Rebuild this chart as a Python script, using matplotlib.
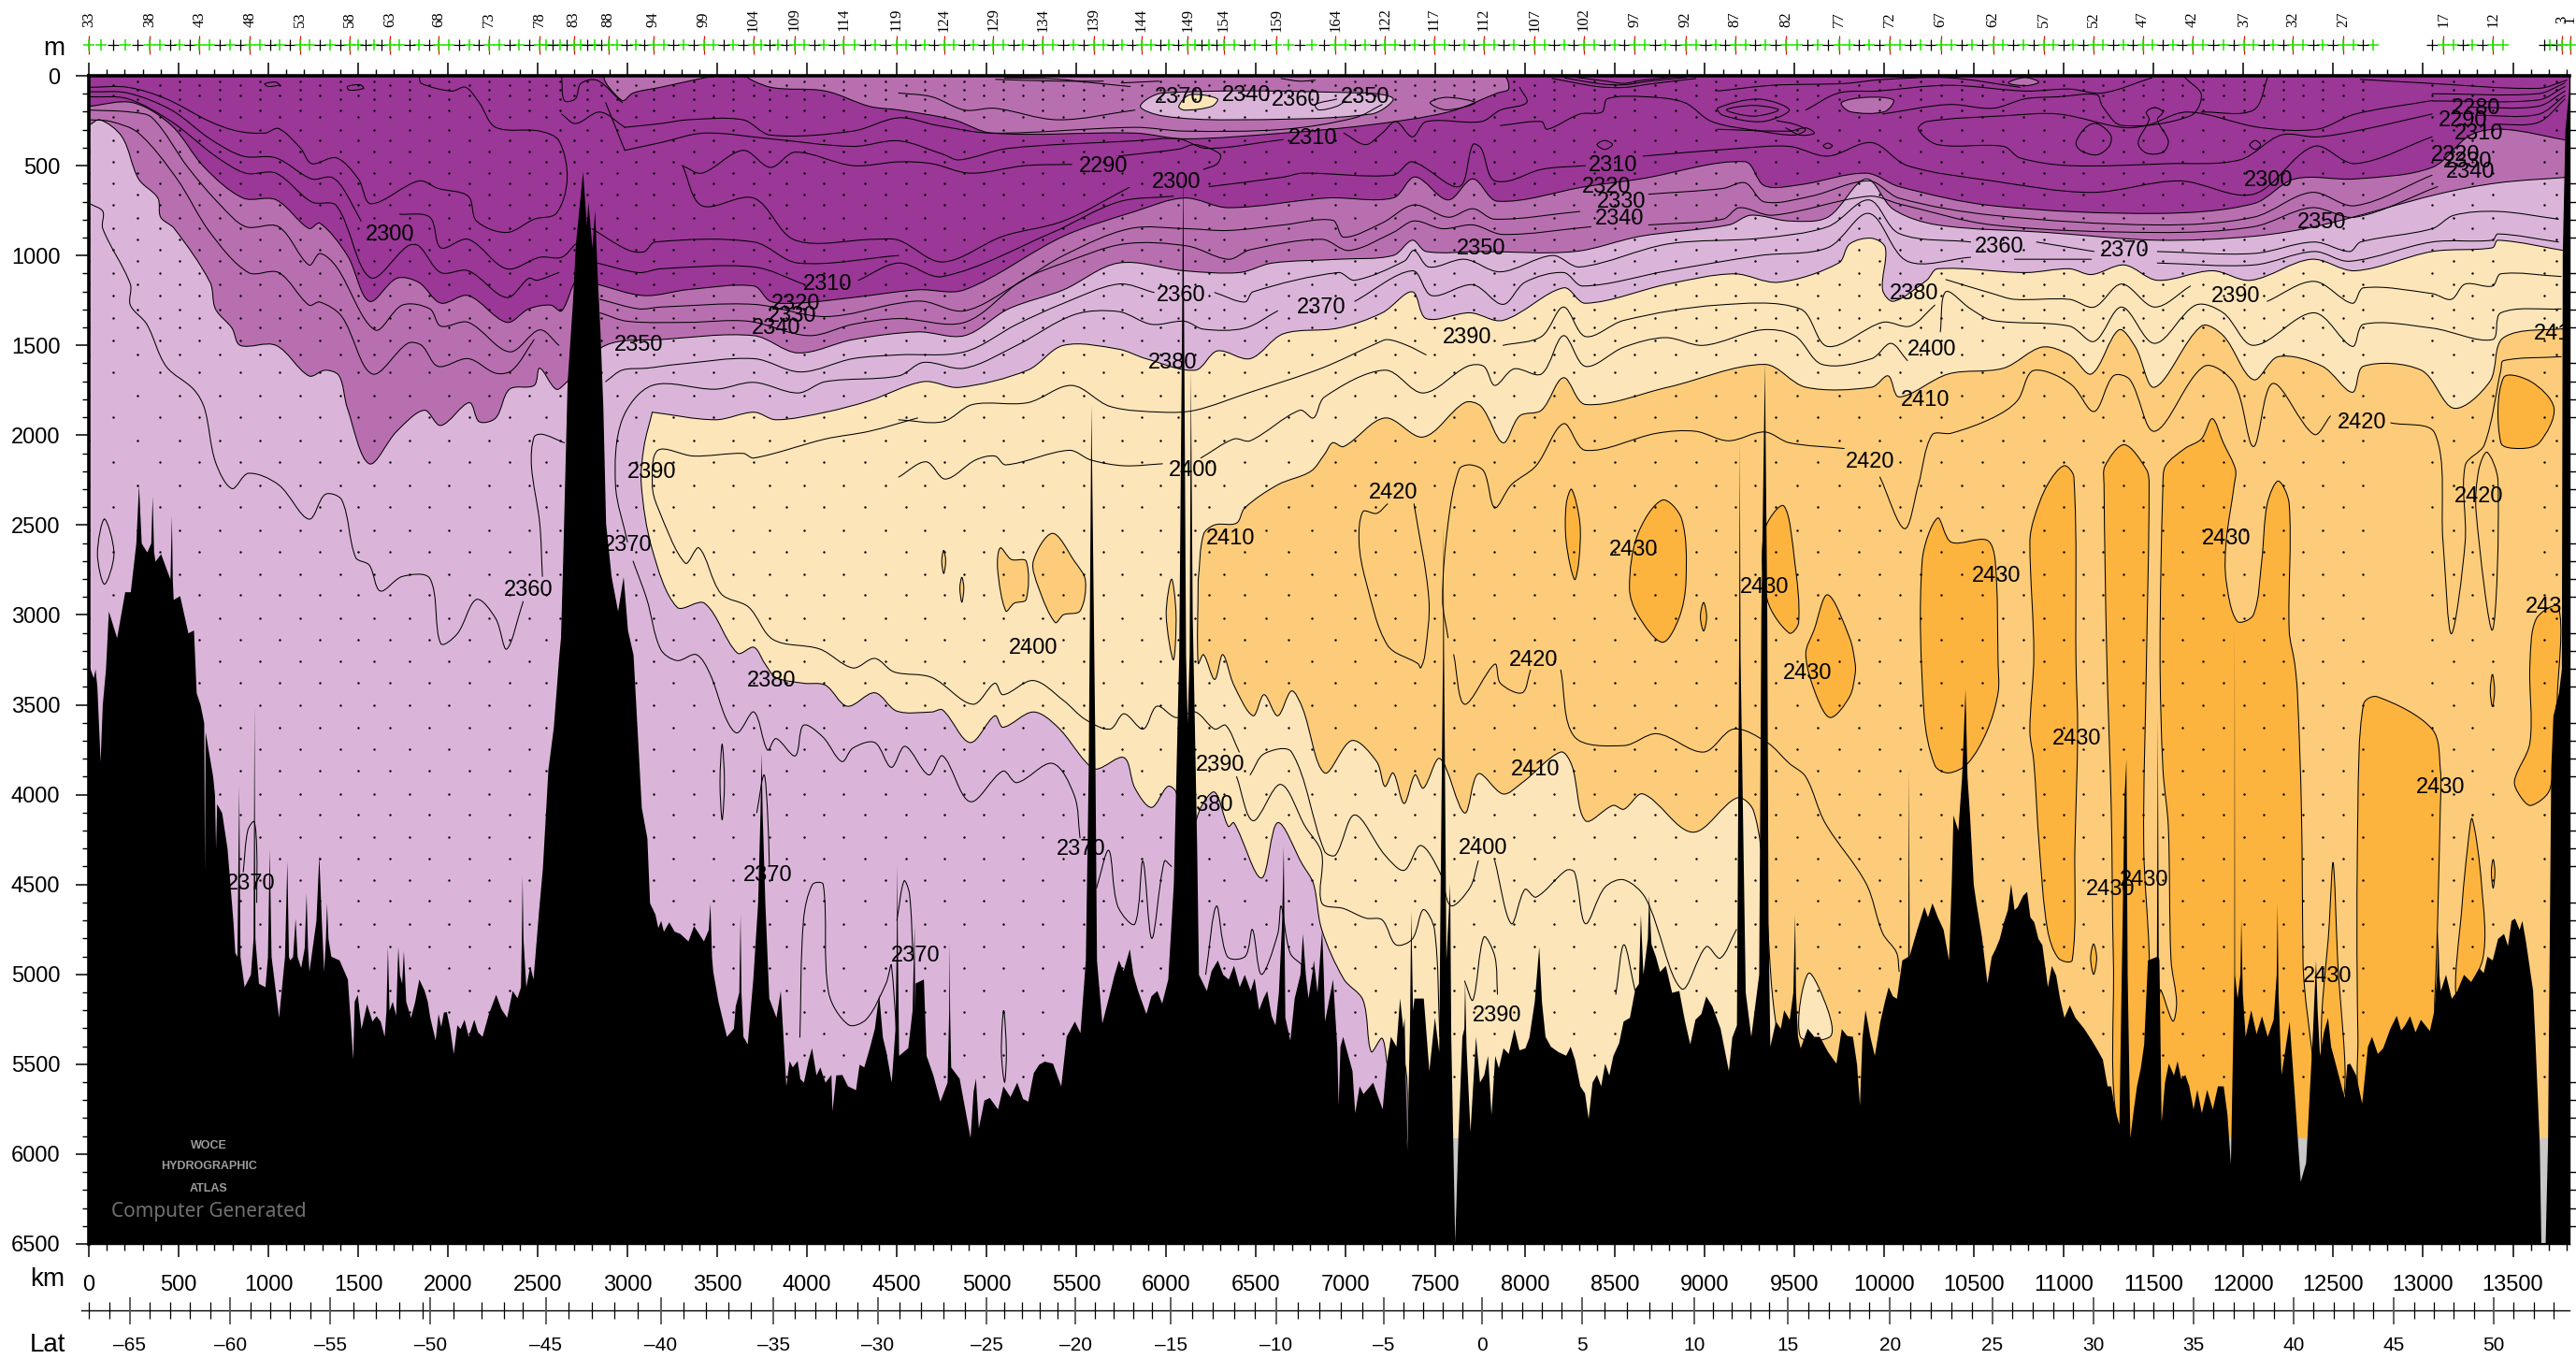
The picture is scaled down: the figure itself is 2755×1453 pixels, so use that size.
import numpy as np
import matplotlib
matplotlib.use("Agg")
import matplotlib.pyplot as plt
from matplotlib.path import Path
from matplotlib.patches import PathPatch

plt.rcParams['font.family'] = ['Liberation Sans', 'DejaVu Sans']

# colours of the bands
c_dark = '#9b3797'
c_med = '#b86fb0'
c_lilac = '#dab5d9'
c_cream = '#fde5ba'
c_lorange = '#fdcc7a'
c_orange = '#fdb43f'
c_grey = '#c8c8c8'

################################################################################
# band boundaries (km, depth m)
b2320 = [(0,170),(246,150),(460,276),(644,510),(858,680),(1042,690),(1226,850),(1287,820),(1440,1000),(1562,1255),
         (1715,1127),(1838,1150),(1960,1265),(2113,1223),(2327,1372),(2450,1297),(2572,1276),(2633,1308),(2725,1127),
         (2832,1160),(3092,1223),(3337,1190),(3704,1170),(3796,1255),(3950,1265),(4255,1234),(4616,1191),(4877,1191),
         (5428,893),(5826,755),(6101,680),(6346,734),(6897,680),(7264,680),(7386,563),(7570,691),(7708,574),(7845,698),
         (8335,617),(8641,574),(9222,478),(9332,612),(9531,606),(9898,542),(10082,617),(10602,723),(11520,766),
         (12055,712),(12285,574),(12622,574),(13050,510),(13264,330),(13448,298),(13815,362)]
b2350 = [(0,276),(63,245),(185,340),(277,574),(384,680),(400,787),(476,850),(675,1149),(705,1297),(797,1404),(843,1500),
         (1042,1500),(1226,1670),(1317,1638),(1394,1670),(1440,1850),(1562,2159),(1715,1978),(1868,1861),(1960,1946),
         (2119,1819),(2174,1925),(2266,1904),(2343,1744),(2480,1723),(2511,1627),(2603,1744),(2664,1702),(2878,1500),
         (3184,1468),(3704,1446),(3949,1542),(4255,1468),(4616,1425),(4877,1446),(5122,1297),(5428,1191),(5734,1042),
         (6101,1085),(6407,1095),(6591,1042),(6958,1021),(7264,1000),(7371,915),(7448,978),(7754,978),(8274,978),
         (8641,893),(9133,830),(9256,776),(9470,808),(9684,787),(9898,574),(10051,744),(10296,830),(10908,872),
         (11520,915),(12055,893),(12438,830),(13081,659),(13417,596),(13815,564)]
b2380_top = [(3138,1872),(3490,1914),(3704,1872),(3827,1914),(4102,1872),(4347,1808),(4648,1702),(4847,1734),(5229,1638),
             (5428,1500),(5734,1521),(5887,1574),(6162,1638),(6285,1531),(6468,1574),(6652,1436),(6958,1404),(7203,1319),
             (7371,1202),(7448,1351),(7692,1319),(7876,1361),(8213,1180),(8335,1266),(8794,1159),(9161,1102),(9409,1149),
             (9745,1042),(9806,936),(9929,904),(10005,957),(9990,1191),(10051,1255),(10235,1138),(10296,1074),(10786,1095),
             (11030,1074),(11153,1106),(11336,1053),(11520,1138),(11826,1085),(12040,1138),(12377,1021),(12622,1085),
             (13050,978),(13386,957),(13417,915),(13815,978)]
b2380_low = [(3138,1872),(3092,2063),(3077,2276),(3138,2637),(3276,2957),(3429,2935),(3612,3212),(3704,3180),(3765,3271),
             (3827,3348),(3980,3380),(4102,3391),(4224,3508),(4377,3433),(4500,3535),(4694,3540),(4755,3529),(4908,3710),
             (5046,3561),(5091,3625),(5260,3540),(5397,3625),(5550,3816),(5612,3858),(5765,3794),(5826,3964),(5918,4071),
             (6009,3954),(6055,3986),(6117,4283),(6193,4071),(6270,3986),(6346,4177),(6377,4156),(6530,4464),(6621,4156),
             (6759,4389),(6820,4495),(6866,4750),(6989,5026),(7096,5143),(7142,5430),(7203,5356),(7249,5558),(7330,5504),
             (7340,5982)]
b2410_top = [(6178,2808),(6208,2552),(6270,2499),(6392,2489),(6438,2404),(6621,2276),(6805,2201),(6882,2106),(6927,2042),
             (6989,2063),(7218,1904),(7432,2010),(7662,1819),(7754,1840),(7876,2042),(7968,1893),(8090,1861),(8213,1680),
             (8335,1829),(8794,1733),(9332,1606),(9562,1733),(9929,1733),(10021,1670),(10082,1787),(10357,1659),(10663,1627),
             (10877,1510),(11030,1553),(11153,1659),(11306,1414),(11398,1510),(11505,1733),(11765,1393),(11887,1446),
             (12055,1691),(12193,1563),(12438,1616),(12606,1761),(12668,1616),(12989,1638),(13172,1850),(13371,1702),
             (13448,1457),(13815,1404)]
b2410_low = [(6178,2808),(6178,3270),(6208,3221),(6270,3359),(6315,3221),(6377,3391),(6484,3561),(6545,3444),(6621,3561),
             (6698,3423),(6759,3518),(6882,3879),(7034,3699),(7172,3816),(7218,3954),(7264,3879),(7325,4049),(7386,3890),
             (7432,3964),(7524,3799),(7662,4102),(7738,3884),(7876,3996),(7983,3933),(8197,3763),(8259,3837),(8335,4145),
             (8488,4060),(8549,4081),(8656,3996),(8932,4209),(9179,4018),(9271,4090),(9332,4495),(9378,5133),(9439,5557)]
patch_cream2 = [(9577,4994),(9684,5196),(9699,5345),(9531,5345)]
patch_med_a = [(3673,0),(3796,64),(4102,85),(4347,170),(4515,191),(4816,245),(5030,319),(5826,319),(6101,351),(6652,319),
               (7111,276),(7570,202),(7845,96),(7907,74),(7876,0)]
patch_med_b = [(2878,0),(2970,138),(3031,96),(3184,64),(3429,11),(3490,0)]
patch_lilac_a = [(5856,170),(5979,96),(7111,96),(7264,128),(7142,213),(6346,245),(5979,223)]
patch_cream_a = [(6070,170),(6132,106),(6285,128),(6254,170),(6101,191)]
patch_med_c = [(9760,150),(9900,120),(10050,135),(10000,200),(9810,200)]
patch_med_d = [(10690,40),(10780,10),(10860,35),(10790,55)]

# light orange islands in the cream
lo_a = [(5076,2627),(5137,2691),(5220,2701),(5220,2914),(5153,2935),(5107,2978),(5061,2744)]
lo_b = [(5367,2546),(5489,2701),(5550,2808),(5520,2978),(5428,2999),(5382,3042),(5290,2850),(5260,2701)]
lo_c = [(4761,2640),(4772,2700),(4761,2770),(4750,2700)]
lo_d = [(4862,2790),(4873,2850),(4862,2930),(4851,2850)]
lo_e = [(6030,2800),(6055,3000),(6040,3250),(6000,3000)]

# orange (>2430) patches
or_1 = [(8258,2301),(8304,2489),(8298,2701),(8274,2803),(8228,2595),(8228,2382)]
or_2 = [(8763,2361),(8871,2467),(8895,2808),(8855,3020),(8763,3152),(8626,2999),(8580,2850),(8626,2552)]
or_3 = [(8993,2930),(9010,3010),(8993,3090),(8975,3010)]
or_4 = [(10296,2461),(10372,2595),(10571,2584),(10617,2701),(10633,3271),(10633,3433),(10571,3646),(10464,3826),
        (10357,3879),(10281,3837),(10220,3540),(10210,2701)]
or_5 = [(9439,2393),(9500,2701),(9522,3042),(9470,3101),(9347,2914),(9332,2531)]
or_6 = [(9684,2888),(9806,3127),(9837,3271),(9837,3327),(9806,3455),(9699,3571),(9623,3455),(9562,3221),(9608,3084)]
or_7 = [(11000,2170),(11055,2233),(11067,3271),(11076,3646),(11061,4283),(11046,4920),(10969,4910),(10908,4750),
        (10862,4283),(10832,3816),(10810,3646),(10832,3221),(10810,2595),(10832,2467),(10908,2276)]
or_8 = [(11336,2053),(11459,2191),(11474,2276),(11459,3271),(11444,4283),(11474,4878),(11489,5876),(11306,5876),
        (11275,4920),(11263,4071),(11238,3221),(11223,2276),(11229,2170)]
or_9 = [(11551,2276),(11566,2170),(11673,2074),(11765,2021),(11826,1908),(11887,2042),(11955,2191),(11948,2276),
        (11903,2595),(11903,2808),(11964,3035),(12055,2999),(12101,2701),(12132,2382),(12193,2255),(12254,2382),
        (12254,3084),(12285,3271),(12300,3433),(12322,4071),(12331,4920),(12346,6067),(11535,5812),(11535,5090),
        (11606,5260),(11627,5154),(11596,4920),(11581,4177),(11551,3858),(11535,3221)]
or_10 = [(12744,3455),(13050,3635),(13096,3858),(13096,4071),(13065,5133),(13035,5345),(12668,5727),(12637,5345),
         (12637,4071),(12668,3497)]
or_11 = [(13273,4134),(13325,4495),(13331,4920),(13188,5133),(13218,4602),(13249,4283)]
or_12 = [(12499,4379),(12524,4920),(12560,5664),(12438,5472),(12478,4708)]
or_13 = [(13448,1680),(13601,1702),(13729,1850),(13647,2042),(13540,2074),(13433,2042)]
or_14 = [(13754,2956),(13748,3433),(13708,3964),(13601,4060),(13540,4007),(13509,3922),(13595,3710),(13595,3271),(13631,3020)]
or_15 = [(11165,4830),(11182,4910),(11165,5000),(11148,4910)]
or_16 = [(13386,3330),(13398,3423),(13386,3510),(13374,3423)]
or_17 = [(13390,4360),(13400,4430),(13390,4520),(13380,4430)]

################################################################################
# plain contours
c_a1 = [(8,64),(216,64),(430,128),(675,255),(828,308),(981,319),(1057,294),(1180,404),(1241,489),(1379,457),(1501,574),
        (1571,712),(1838,585),(1945,627),(2113,670),(2159,808),(2327,872),(2480,798),(2603,766),(2664,574),(2618,362),
        (2511,308),(2266,287),(2174,149),(2098,64),(2021,85),(1853,43),(1838,0)]
c_a2 = [(8,89),(216,96),(460,191),(675,351),(858,447),(1042,457),(1241,574),(1348,564),(1409,617),(1516,808)]
c_a2b = [(1731,770),(1899,787),(1960,957),(2113,910),(2327,1074),(2511,1010),(2633,1010),(2710,936)]
c_a3 = [(8,117),(216,128),(460,255),(705,447),(874,542),(1042,542),(1241,702),(1379,723),(1568,1123),(1776,947),(1838,947),
        (1960,1095),(2113,1085),(2327,1234),(2450,1127),(2496,1138),(2618,1095)]
c_2330l = [(8,191),(231,202),(353,234),(552,510),(736,723),(874,840),(1057,840),(1226,1053),(1287,989),(1379,1063),(1593,1414),
           (1746,1276),(1899,1297),(1960,1393),(2113,1372),(2343,1536),(2511,1414),(2618,1500)]
c_2340l = [(8,245),(124,255),(277,319),(491,574),(675,872),(889,1095),(1057,1095),(1226,1276),(1287,1259),(1409,1340),
           (1578,1659),(1776,1489),(1853,1500),(1945,1617),(2113,1574),(2266,1655),(2358,1638),(2480,1468)]
c_r1 = [(2802,851),(3000,968),(3092,979),(3153,925),(3704,925),(3949,1042),(4510,1000)]
c_r2 = [(2832,1042),(3062,1095),(3184,1074),(3704,1064),(3980,1159)]
c_r2b = [(4286,1138),(4510,1042),(4755,1117),(5367,872),(5734,702),(6040,670)]
c_2330 = [(2847,1244),(3062,1297),(3184,1287),(3704,1272),(4102,1340),(4510,1266),(4648,1255),(4877,1308),(5168,1159),
          (5428,1000),(5795,851),(6117,851),(6346,861),(6652,830),(6927,804),(6989,898),(7203,819),(7380,719),(7570,787),
          (7708,740),(7830,798),(8304,755)]
c_2330b = [(8687,659),(9100,627),(9225,596),(9332,702),(9592,670),(9914,585),(10082,681),(10602,776),(11520,830),(12055,787),
           (12377,649),(12622,723),(13050,553)]
c_2340 = [(2847,1319),(3000,1366),(3337,1372),(3674,1366),(4010,1446),(4255,1383),(4510,1351),(4877,1372),(5198,1138),
          (5428,1042),(5765,936),(6117,947),(6346,1021),(6468,968),(6866,910),(7019,972),(7264,872),(7380,808),(7539,851),
          (7708,830),(7876,883),(8366,840)]
c_2340b = [(8687,830),(9100,798),(9192,734),(9378,776),(9914,670),(10082,713),(10602,830),(11520,872),(12055,840),(12377,734),
           (12622,787),(13081,617)]
c_2360a = [(2878,1702),(2970,1638),(3108,1627),(3276,1606),(3704,1574),(3964,1648),(4255,1574),(4510,1553),(4877,1536),
           (5168,1383),(5428,1266),(5734,1159),(5933,1206)]
c_2360b = [(6270,1206),(6438,1259),(6484,1202),(6958,1095),(7050,1138),(7325,1032),(7380,972),(7463,1064),(7662,1021),
           (7861,1091),(8151,1000),(8304,1064),(8794,936),(9308,904),(9684,840),(9914,691),(10082,878),(10480,925)]
c_2360c = [(10847,925),(11168,978)]
c_2360d = [(11520,978),(12055,989),(12392,925),(12591,978),(12652,925),(13050,851),(13172,776),(13417,755),(13754,798)]
c_2370a = [(3000,2595),(2933,2276),(2970,1914),(3138,1723),(3490,1744),(3704,1706),(3949,1765),(4102,1702),(4510,1670),
           (4648,1595),(4877,1627),(5168,1500),(5489,1329),(5734,1312),(5918,1383),(6101,1366),(6208,1410),(6438,1404),(6621,1308)]
c_2370b = [(7050,1255),(7371,1085),(7478,1223),(7708,1163),(7876,1272),(7998,1149),(8213,1095),(8320,1170),(8794,1085),
           (9308,1000),(9684,957),(9914,766),(10128,1032),(10480,1010)]
c_2370c = [(10724,1021),(11153,1021)]
c_2370d = [(11520,1042),(12055,1053),(12392,978),(12591,1032),(13050,925),(13386,915),(13417,880),(13754,925)]
c_2370e = [(3031,2701),(3108,2914),(3184,3190),(3276,3254),(3383,3221),(3459,3327),(3551,3582),(3612,3656),(3704,3540),
           (3780,3752),(3827,3688),(3934,3784),(3980,3614),(4087,3678),(4194,3816),(4255,3741),(4377,3710),(4469,3848),
           (4546,3731),(4678,3890),(4755,3784),(4908,4039),(5091,3869),(5168,3933),(5367,3826),(5489,4007),(5520,4241)]
c_2360l = [(8,713),(78,755),(78,851),(231,1159),(231,1276),(323,1383),(430,1616),(583,1744),(644,1850),(705,2148),(797,2297),
           (889,2212),(1057,2276),(1226,2467),(1317,2329),(1409,2361),(1486,2680),(1562,2723),(1623,2867),(1746,2786),
           (1899,2797),(1960,3159),(2052,3105),(2159,2914),(2266,3020),(2327,3190),(2419,2925)]
c_2360m = [(2526,2786),(2511,2489),(2465,2170),(2480,2010),(2526,1995),(2648,2042)]
c_2360o = [(87,2467),(140,2659),(87,2829),(48,2659),(87,2467)]
c_2390a = [(4616,1904),(4347,1978),(4102,2021),(3704,2127),(3643,2101),(3368,2116),(3169,2084),(3138,2276),(3169,2403),
           (3322,2712),(3398,2627),(3521,2882),(3674,2956),(3811,3137),(4071,3190),(4255,3295),(4377,3242),(4484,3317),
           (4694,3348),(4923,3497),(5046,3380),(5091,3444),(5260,3365),(5428,3476),(5550,3582),(5688,3635),(5765,3550),
           (5872,3635),(5948,3508),(6055,3571),(6162,3540),(6270,3635),(6331,3614),(6407,3763)]
c_2390b = [(4510,1914),(4755,1925),(4923,1829),(5229,1819),(5474,1723),(5688,1840),(5979,1872),(6162,1861),(6453,1766),
           (6866,1627),(7172,1489),(7233,1468),(7341,1500),(7448,1553)]
c_2390c = [(7876,1500),(8090,1451),(8213,1287),(8335,1451),(8549,1361),(9072,1276),(9531,1297),(9684,1506),(9990,1372),
           (10143,1393),(10281,1276)]
c_2390d = [(10342,1134),(10602,1212),(10724,1244),(11030,1244),(11168,1287),(11321,1159),(11505,1287),(11704,1170)]
c_2390e = [(12132,1255),(12392,1144),(12606,1266),(12668,1180),(13050,1212),(13157,1244),(13234,1159),(13386,1170),
           (13433,1102),(13769,1117)]
c_2390f = [(6392,3900),(6484,4145),(6637,3943),(6774,4177),(6866,4326),(6866,4602),(6989,4634),(7111,4687),(7203,4697),
           (7279,4835),(7371,4803),(7432,4640),(7494,4750),(7524,5345)]
c_2390g = [(7662,5037),(7708,5143),(7769,4793),(7830,4899),(7845,5111)]
c_2390h = [(8504,5111),(8549,4835),(8611,5090)]
c_2400a = [(4510,2233),(4663,2148),(4770,2244),(4938,2138),(5046,2116),(5107,2165),(5459,2084),(5581,2138),(5765,2170),(5979,2159)]
c_2400b = [(6193,2127),(6377,2021),(6468,2031),(6744,1861),(6820,1904),(6882,1787),(7218,1638),(7432,1765),(7677,1617),
           (7769,1617),(7830,1723),(7937,1631),(8090,1659),(8213,1446),(8335,1617),(8549,1510),(8779,1457),(8993,1500),
           (9317,1414),(9500,1446),(9653,1606),(9929,1574),(10036,1489),(10128,1585)]
c_2400c = [(10311,1425),(10342,1202),(10480,1297),(10602,1361),(11030,1393),(11168,1478),(11321,1287),(11505,1489),(11734,1276),
           (11887,1319),(12055,1500),(12392,1319),(12606,1506),(12668,1383),(13050,1404),(13386,1468),(13433,1319),(13769,1297)]
c_2400d = [(6468,3890),(6545,3773),(6698,3763),(6882,4315),(6943,4336),(7050,4113),(7218,4336),(7325,4421),(7417,4283),
           (7524,4432),(7585,4618),(7692,4517),(7738,4368)]
c_2400e = [(7830,4368),(7922,4718),(7998,4527),(8060,4570),(8228,4421),(8274,4432),(8335,4718),(8442,4517),(8549,4474),
           (8672,4580),(8870,5080),(9008,4846),(9085,4910),(9176,4750)]
c_2420a = [(7233,2382),(7172,2435),(7096,2425),(7074,2595),(7111,2808),(7233,3169),(7402,3271),(7417,3295),(7441,3221),
           (7463,2914),(7380,2382)]
c_2420b = [(7570,3127),(7539,2914),(7570,2489),(7631,2191),(7692,2165),(7769,2201),(7830,2403),(7922,2276),(8060,2170),
           (8213,1936),(8335,2084),(8733,1989),(8947,1978),(9131,2031),(9332,1982),(9470,2042),(9776,2074)]
c_2420c = [(7601,3221),(7662,3497),(7830,3274),(7861,3380),(7983,3433),(8029,3306)]
c_2420d = [(8197,3306),(8274,3678),(8549,3727),(8733,3661),(8993,3763),(9161,3635),(9347,3710),(9470,3826),(9562,3901),
           (9669,4156),(9898,4495),(9990,4771),(10067,4878),(10082,4984)]
c_2420e = [(9975,2233),(10112,2520),(10189,2276),(10265,1999),(10372,1989),(10602,1904),(10740,1808),(10816,1648),(10908,1648),
           (11046,1723),(11168,1868),(11275,1670),(11367,1691),(11505,1978),(11780,1617),(11948,1712),(12055,2063),(12163,1712),
           (12392,1995),(12484,1893)]
c_2420f = [(12820,1931),(13065,1989),(13111,2595),(13157,3105),(13234,2595),(13234,2170),(13341,2053),(13433,1638),(13448,1585),(13769,1563)]
c_2420g = [(13356,2095),(13417,2255),(13386,3084),(13295,2425),(13310,2191),(13356,2095)]
# upper water column
c_t1 = [(2985,287),(3184,266),(3337,245),(3643,245),(3796,330),(4255,308),(4510,234),(4724,276),(5030,319),(5826,287),
        (6101,308),(6652,298),(7050,234),(7203,160)]
c_t2 = [(4510,96),(4694,117),(4877,191),(5046,181),(5397,245),(5826,191)]
c_t3 = [(2985,415),(3184,372),(3429,319),(3796,351),(4255,393),(4510,362),(4755,436),(4847,468),(5122,404),(5826,362),
        (6070,351),(6224,404),(6652,355)]
c_t3b = [(6989,319),(7111,383),(7203,319),(7279,255),(7371,340),(7448,255),(7754,255),(7861,191),(8008,149),(7968,64)]
c_t4 = [(3306,500),(3414,542),(3643,415),(3796,510),(3934,425),(4255,500),(4510,479),(4694,489),(4908,542),(5214,500),(5474,493)]
c_t4b = [(5734,447),(6070,408),(6162,383),(6300,436),(6285,489),(6208,521)]
c_t5 = [(3306,500),(3414,723),(3704,681),(3934,915),(4377,910),(4510,915),(4755,1036),(5091,893),(5428,808),(5795,621)]
c_t5b = [(6239,617),(6652,564),(6759,542),(7264,553),(7371,479),(7631,617),(7708,383),(7754,404),(7815,574),(7907,585),
         (8090,521),(8335,500)]
c_t5c = [(8656,447),(9192,404),(9470,393),(9684,447),(9929,372),(10128,500),(10602,585),(11153,649),(11642,585),(12055,659),
         (12392,393),(12622,489),(13050,340)]
c_t6 = [(2633,0),(2648,138),(2710,128),(2740,43),(2832,26),(2970,149)]
c_t7 = [(2633,213),(2710,266),(2847,202),(2985,287)]
c_t8 = [(2878,149),(2985,415)]
c_t9 = [(7861,277),(8090,255),(8121,298),(8304,213),(8427,202),(8457,128),(8671,117),(8886,149),(9039,255),(9308,308),
        (9500,330),(9560,300),(9500,270),(9400,250)]
c_loop = [(13050,138),(12622,213),(12407,298),(12086,287),(11688,202),(11459,277),(11321,287),(10969,213),(10663,223),
          (10235,255),(10189,298),(10296,383),(10663,393),(10755,457),(11030,500),(11581,489),(11979,468),(12209,330),
          (12407,340),(12622,308),(13050,213)]
c_peanut = [(11505,177),(11551,202),(11520,245),(11581,362),(11551,425),(11459,430),(11413,372),(11474,245),(11459,202),(11505,177)]
c_blob = [(11183,266),(11260,330),(11251,393),(11183,440),(11092,415),(11067,372),(11122,287),(11183,266)]
c_ell1 = [(9072,180),(9300,130),(9470,190),(9320,255),(9100,220),(9072,180)]
c_ell2 = [(9120,190),(9270,165),(9410,190),(9270,225),(9120,190)]
c_s1 = [(9072,85),(9378,53),(9776,43),(9990,21),(10357,11),(10755,64)]
c_s2 = [(9562,191),(9745,96),(9960,85),(10357,53),(10786,85),(11030,74),(11214,96),(11490,11)]
c_s3 = [(9990,213),(10357,160),(10602,181),(10786,128),(10969,117),(11183,106),(11214,170),(11321,276),(11704,223),(11765,106),(11673,10)]
c_s4 = [(12137,0),(12055,191),(11765,202)]
c_s5 = [(9072,298),(9470,308),(9562,290),(9610,320),(9530,330),(9450,290)]
# surface fans
c_f1 = [(13050,140),(13640,135),(13790,60)]
c_f2 = [(13050,100),(13640,100),(13790,40)]
c_f3 = [(12650,20),(13000,40),(13640,70),(13800,25)]
c_f4 = [(13250,175),(13640,170),(13790,85)]
c_f5 = [(13300,220),(13640,215),(13790,110)]
c_f6 = [(13400,270),(13640,260),(13790,130)]
c_f7 = [(5050,20),(5400,30),(5650,30)]
c_f8 = [(5100,12),(5380,18),(5600,40),(5800,60)]
c_f9 = [(5750,40),(5960,30)]
c_f10 = [(8150,15),(8400,60),(8550,65),(8700,45),(8950,15)]
c_f11 = [(8220,12),(8420,45),(8550,50),(8690,30),(8900,10)]
c_f12 = [(8280,8),(8450,30),(8550,42),(8650,25),(8850,5)]
c_f13 = [(6640,15),(6740,30),(6830,25)]
c_f14 = [(7470,150),(7560,120),(7720,150),(7560,190),(7470,150)]
c_f15 = [(7000,140),(6950,170),(6850,190),(6830,160),(6950,130)]
c_circ = [(8400,383),(8442,360),(8485,383),(8442,410),(8400,383)]
c_circ2 = [(12035,385),(12065,360),(12095,385),(12065,410),(12035,385)]
c_circ3 = [(9660,390),(9684,375),(9710,390),(9684,405),(9660,390)]
c_s6 = [(1440,60),(1510,50),(1530,70),(1450,80),(1440,60)]
c_s7 = [(980,45),(1040,35),(1060,50),(1000,60),(980,45)]
c_lens = [(3527,3720),(3540,3930),(3527,4140),(3515,3930),(3527,3720)]
c_bump1 = [(860,4430),(885,4200),(920,4150),(935,4300),(935,4600)]
c_bump2 = [(3720,4100),(3760,3890),(3780,4100),(3790,4400)]
c_bump3 = [(3960,5350),(3980,4700),(4030,4500),(4090,4500),(4120,5100),(4230,5280),(4330,5250),(4440,5050),(4470,4950),(4520,5750)]
c_bump4 = [(4500,4700),(4540,4480),(4570,4550),(4590,4900)]
c_bump5 = [(5100,5600),(5082,5430),(5095,5200),(5110,5430),(5100,5600)]
c_bump6 = [(5612,4520),(5680,4310),(5730,4620),(5825,4720),(5870,4370),(5920,4800),(5990,4370),(6030,4400)]
c_bump7 = [(6220,5000),(6280,4620),(6340,4900),(6440,4900),(6480,4750),(6530,5000),(6620,4780),(6640,4620),(6690,4880),(6760,4950)]

################################################################################
# bottom topography, km and depth
bathy = [(0,3280),(25,3350),(35,3300),(45,3400),(63,3816),(75,3500),(93,3300),(109,2978),(155,3127),(200,2871),(231,2871),
         (262,2600),(277,2276),(292,2600),(323,2650),(345,2600),(353,2340),(361,2650),(369,2701),(400,2659),(452,2800),
         (460,2446),(465,2800),(470,2914),(506,2893),(552,3100),(583,3084),(598,3433),(620,3500),(640,3600),(644,4430),
         (648,3650),(690,3900),(700,4000),(706,4300),(712,4050),(740,4100),(770,4300),(803,4708),(813,4878),(825,4900),
         (835,3950),(842,4900),(865,5069),(900,5000),(915,4800),(920,3497),(925,4800),(945,5050),(981,5069),(995,4900),
         (1005,4304),(1015,4900),(1057,5239),(1090,4900),(1103,4368),(1112,4900),(1119,4920),(1135,4900),(1149,4687),
         (1160,4900),(1180,4963),(1200,4850),(1210,4548),(1218,4850),(1226,4984),(1265,4700),(1281,4336),(1295,4700),
         (1308,4984),(1318,4800),(1324,4602),(1332,4800),(1348,4899),(1394,4920),(1440,5026),(1470,5472),(1478,5150),
         (1495,5111),(1516,5302),(1547,5164),(1577,5260),(1600,5230),(1623,5260),(1645,5345),(1655,5200),(1663,4846),
         (1672,5200),(1690,5150),(1709,5228),(1716,5000),(1721,4846),(1730,5000),(1742,5050),(1752,4867),(1765,5150),
         (1792,5239),(1815,5150),(1838,5026),(1868,5090),(1885,5150),(1899,5239),(1929,5366),(1945,5218),(1960,5290),
         (1975,5210),(1991,5207),(2010,5300),(2030,5441),(2050,5280),(2067,5302),(2090,5250),(2113,5345),(2144,5250),
         (2165,5320),(2190,5345),(2225,5220),(2266,5111),(2295,5190),(2327,5239),(2358,5090),(2385,5130),(2404,5069),
         (2409,4800),(2413,4453),(2418,4800),(2434,5069),(2456,4952),(2474,5026),(2505,4644),(2526,4410),(2557,3858),
         (2587,3625),(2618,3221),(2627,3127),(2639,2701),(2664,1702),(2694,1255),(2710,936),(2750,532),(2771,830),
         (2780,702),(2802,957),(2817,745),(2832,1127),(2847,1425),(2863,1850),(2878,2489),(2909,2786),(2945,2978),(2976,2786),
         (3000,3084),(3031,3221),(3077,4071),(3108,4241),(3123,4602),(3153,4665),(3169,4740),(3185,4700),(3200,4760),
         (3230,4708),(3260,4760),(3291,4772),(3337,4814),(3368,4729),(3423,4814),(3450,4750),(3459,4602),(3468,4900),
         (3475,4984),(3505,5154),(3551,5345),(3590,5300),(3600,5175),(3620,5100),(3627,4665),(3632,5100),(3643,5345),
         (3667,5387),(3698,5026),(3725,4600),(3738,4100),(3744,3763),(3750,4100),(3765,4600),(3787,5132),(3827,5239),
         (3851,5090),(3882,5621),(3900,5480),(3918,5515),(3945,5480),(3960,5580),(3980,5600),(4005,5480),(4025,5408),
         (4050,5560),(4071,5515),(4100,5600),(4133,5557),(4139,5759),(4160,5560),(4194,5557),(4225,5620),(4270,5642),
         (4290,5500),(4316,5515),(4347,5408),(4375,5300),(4399,5111),(4420,5350),(4439,5430),(4469,5600),(4490,5300),
         (4497,4800),(4500,4389),(4503,4800),(4510,5451),(4561,5408),(4585,5200),(4596,4729),(4600,5200),(4602,5048),
         (4648,5026),(4663,5451),(4700,5557),(4740,5706),(4780,5600),(4789,5200),(4791,4814),(4794,5200),(4800,5515),
         (4847,5578),(4908,5908),(4925,5650),(4938,5578),(4954,5855),(4985,5700),(5015,5685),(5061,5749),(5091,5621),
         (5130,5680),(5168,5600),(5200,5690),(5229,5706),(5260,5547),(5290,5500),(5321,5483),(5367,5494),(5413,5621),
         (5443,5345),(5489,5260),(5520,5324),(5550,4920),(5566,3858),(5581,1830),(5602,3646),(5612,4920),(5642,5271),
         (5688,5090),(5710,5000),(5734,4920),(5760,4980),(5795,4857),(5815,5000),(5841,5090),(5887,5218),(5915,5120),
         (5948,5090),(5975,5160),(6009,5026),(6040,4495),(6070,3221),(6085,1500),(6092,500),(6098,1500),(6108,3221),
         (6117,3600),(6128,3221),(6135,1640),(6145,3000),(6155,3500),(6170,4300),(6180,5000),(6224,5090),(6250,4980),
         (6285,4920),(6315,5000),(6346,5026),(6375,4950),(6407,5069),(6435,5000),(6468,5090),(6490,5020),(6515,5196),
         (6540,5130),(6560,5090),(6585,5230),(6606,5281),(6625,5100),(6643,4708),(6652,4283),(6661,5239),(6689,5366),
         (6713,5132),(6745,5000),(6759,4772),(6775,5000),(6790,5132),(6810,5000),(6820,4920),(6840,5100),(6866,4750),
         (6875,5000),(6882,5260),(6927,5026),(6950,5400),(6958,5727),(6968,5400),(6983,5345),(7035,5536),(7050,5770),
         (7075,5620),(7096,5664),(7150,5600),(7203,5749),(7225,5500),(7249,5345),(7280,5400),(7300,5132),(7318,5300),
         (7325,5239),(7340,5982),(7355,5300),(7362,4644),(7372,5200),(7380,5132),(7432,5132),(7463,5536),(7494,5239),
         (7518,5430),(7524,4708),(7539,3221),(7541,2490),(7545,3221),(7558,4920),(7579,4495),(7585,5345),(7607,6492),
         (7625,5897),(7647,5345),(7658,5300),(7662,5037),(7670,5400),(7692,5876),(7723,5345),(7745,5600),(7769,5557),
         (7790,5450),(7809,5780),(7830,5451),(7850,5520),(7876,5409),(7905,5440),(7937,5302),(7965,5420),(7998,5409),
         (8020,5350),(8050,5150),(8075,4846),(8090,5150),(8110,5345),(8140,5400),(8182,5430),(8225,5450),(8250,5400),
         (8274,5472),(8304,5621),(8330,5660),(8350,5801),(8372,5600),(8396,5557),(8420,5620),(8442,5494),(8465,5560),
         (8488,5451),(8520,5380),(8545,5260),(8580,5239),(8610,5080),(8630,5050),(8641,4665),(8655,5000),(8680,4800),
         (8687,4559),(8700,4830),(8725,4900),(8748,4984),(8780,4950),(8815,5100),(8855,5090),(8885,5250),(8916,5387),
         (8945,5250),(8978,5218),(9005,5120),(9039,5175),(9085,5300),(9131,5536),(9150,5350),(9176,5281),(9188,3221),
         (9192,2031),(9196,3221),(9225,5100),(9256,5345),(9300,5000),(9312,3000),(9332,1600),(9345,3000),(9352,4700),
         (9362,5400),(9393,5260),(9420,5300),(9439,5197),(9470,5250),(9490,5100),(9500,4665),(9505,5100),(9516,5345),
         (9531,5409),(9570,5300),(9607,5345),(9638,5345),(9684,5430),(9730,5494),(9760,5302),(9790,5340),(9822,5345),
         (9845,5500),(9861,5727),(9875,5350),(9892,5196),(9920,5350),(9944,5451),(9975,5260),(10000,5150),(10021,5069),
         (10045,5120),(10067,5133),(10097,4920),(10130,4900),(10134,3858),(10138,4900),(10143,4878),(10180,4750),
         (10220,4623),(10240,4680),(10265,4602),(10295,4680),(10327,4750),(10357,4920),(10372,4500),(10382,4113),(10409,4198),
         (10430,3900),(10449,3412),(10460,3900),(10474,4113),(10495,4500),(10510,4602),(10541,4793),(10571,5048),(10595,4900),
         (10617,4856),(10640,4800),(10663,4708),(10685,4640),(10703,4495),(10722,4640),(10740,4623),(10770,4560),(10792,4538),
         (10810,4680),(10832,4708),(10855,4800),(10877,4835),(10908,5069),(10930,4950),(10954,5005),(10975,5130),(11000,5239),
         (11030,5170),(11061,5239),(11110,5300),(11153,5366),(11185,5420),(11214,5472),(11240,5620),(11260,5621),(11285,5760),
         (11306,5834),(11335,4000),(11345,3800),(11352,5000),(11367,5908),(11385,5760),(11404,5621),(11425,5520),(11444,5387),
         (11465,4920),(11515,4900),(11520,3561),(11525,4900),(11529,4920),(11541,5823),(11560,5600),(11581,5494),(11610,5560),
         (11630,5480),(11650,5580),(11673,5557),(11695,5620),(11719,5749),(11740,5640),(11765,5770),(11795,5640),(11826,5749),
         (11855,5620),(11887,5621),(11908,5780),(11927,6057),(11946,5000),(11948,3035),(11950,5000),(11964,5133),(11980,5000),
         (11985,4687),(11993,5100),(12009,5345),(12040,5197),(12070,5330),(12100,5230),(12132,5345),(12165,5250),(12182,5000),
         (12187,4602),(12192,5100),(12209,5557),(12254,5260),(12285,5700),(12316,6152),(12346,6046),(12385,5300),(12401,4920),
         (12410,5200),(12423,5451),(12445,5320),(12468,5239),(12485,5400),(12499,5451),(12530,5570),(12560,5685),(12575,5500),
         (12591,5494),(12625,5560),(12658,5717),(12690,5400),(12713,5345),(12745,5440),(12775,5409),(12815,5300),(12851,5228),
         (12875,5310),(12897,5281),(12925,5230),(12955,5320),(12985,5250),(13035,5313),(13060,5200),(13075,5000),(13081,4750),
         (13088,5000),(13096,5090),(13125,5000),(13157,5133),(13188,5090),(13225,5000),(13265,5040),(13310,4963),(13335,4990),
         (13356,4899),(13385,4920),(13415,4800),(13448,4772),(13470,4840),(13490,4700),(13509,4687),(13535,4750),(13550,4700),
         (13570,4814),(13610,5090),(13622,5345),(13647,5940),(13656,6492),(13680,6492),(13693,5940),(13711,3858),(13723,3561),
         (13754,3433),(13770,3300),(13775,1000),(13790,300),(13815,40)]

################################################################################
# stations and scales
sta_labels = ['33','38','43','48','53','58','63','68','73','78','83','88','94','99','104','109','114','119','124','129','134',
              '139','144','149','154','159','164','122','117','112','107','102','97','92','87','82','77','72','67','62','57',
              '52','47','42','37','32','27','17','12','3','1']
sta_labels_km = [0,340,617,897,1175,1455,1676,1950,2230,2508,2700,2893,3145,3426,3700,3930,4204,4498,4763,5038,5313,5597,5862,
                 6119,6320,6614,6943,7218,7493,7768,8052,8326,8610,8894,9169,9453,9746,10030,10314,10605,10886,11163,11439,
                 11716,12002,12273,12555,13113,13389,13775,13820]
sta_km = [68,136,204,272,395,451,506,562,673,729,785,841,953,1008,1064,1119,1231,1287,1343,1399,1499,1543,1588,1632,1731,1786,
          1840,1895,2006,2062,2118,2174,2286,2341,2397,2452,2546,2585,2623,2662,2739,2777,2816,2854,2943,2994,3044,3095,3201,
          3257,3314,3370,3481,3536,3590,3645,3746,3792,3838,3884,3985,4040,4094,4149,4263,4322,4380,4439,4551,4604,4657,4710,
          4818,4873,4928,4983,5093,5148,5203,5258,5370,5426,5483,5540,5650,5703,5756,5809,5913,5965,6016,6068,6159,6199,6240,
          6280,6379,6438,6496,6555,6680,6746,6811,6877,6998,7053,7108,7163,7273,7328,7383,7438,7548,7603,7658,7713,7825,7881,
          7938,7995,8107,8162,8216,8271,8383,8439,8496,8553,8667,8724,8780,8837,8949,9004,9059,9114,9226,9282,9339,9396,9512,
          9570,9629,9687,9803,9859,9916,9973,10087,10144,10200,10257,10372,10430,10489,10547,10661,10717,10774,10830,10941,
          10997,11052,11108,11218,11273,11329,11384,11494,11550,11605,11661,11773,11830,11888,11945,12056,12110,12165,12219,
          12329,12386,12442,12499,12610,12665,12720,13050,13167,13222,13276,13330,13444,13676,13708,13742]
lat_major = [-65,-60,-55,-50,-45,-40,-35,-30,-25,-20,-15,-10,-5,0,5,10,15,20,25,30,35,40,45,50]
lat_major_km = [229,787,1345,1903,2544,3186,3812,4395,5000,5496,6027,6611,7211,7758,8316,8941,9463,10031,10600,11163,11720,
                12278,12836,13394]
lat_minor_km = [0,115,340,452,564,676,899,1010,1122,1233,1473,1601,1730,1858,2031,2186,2314,2416,2672,2800,2929,3057,3311,3436,
                3562,3687,3929,4046,4162,4279,4516,4637,4758,4879,5099,5198,5297,5396,5602,5708,5815,5921,6144,6260,6378,6494,
                6731,6851,6971,7091,7320,7430,7539,7649,7870,7981,8093,8204,8441,8566,8691,8816,9045,9150,9254,9359,9576,9690,
                9804,9917,10145,10259,10372,10486,10713,10826,10938,11051,11274,11386,11497,11609,11832,11943,12055,12167,12390,
                12501,12613,12724,12948,13059,13171,13282,13505,13617,13729]

lev_a = [30,80,130,190,300,420,540,660,790,910,1030,1160,1300,1400,1550,1780,2030,2280,2530,2775,3020,3259,3503,3746,3996,4236,
         4474,4718,4963,5210,5450]
lev_b = [50,110,230,360,480,600,720,850,970,1100,1225,1350,1475,1650,1900,2150,2400,2650,2890,3140,3380,3625,3869,4113,4357,
         4591,4846,5090,5330,5570]

# contour labels
lab_txt = ['2370','2340','2360','2350','2310','2290','2300','2300','2310','2320','2330','2340','2350','2360','2370','2390',
           '2380','2360','2370','2350','2390','2380','2400','2410','2420','2430','2400','2420','2410','2370','2390','2380',
           '2400','2390','2370','2370','2370','2310','2320','2330','2340','2360','2370','2380','2390','2400','2410','2420',
           '2420','2420','2430','2430','2430','2430','2430','2430','2430','2430','2430','2350','2300','2280','2290','2310',
           '2320','2330','2340','2410','2430']
lab_km = [6073,6449,6723,7108,6815,5652,6055,1676,4113,3939,3918,3827,3062,2450,2998,3138,3802,6082,6866,7754,7677,6034,6153,
          6361,7264,8601,5260,8044,8054,5526,6300,6239,7763,7845,3781,904,4602,8488,8451,8534,8525,10642,11336,10167,11955,
          10265,10229,9923,12661,13310,9571,11903,9332,10623,11070,11260,11444,12469,13096,12438,12141,13295,13224,13310,
          13182,13249,13264,13754,13708]
lab_dep = [119,110,137,119,347,503,594,887,1161,1270,1340,1404,1500,2861,2612,2208,3365,1223,1293,963,1457,1600,2197,2574,2323,
           2638,3186,3253,3862,4304,3837,4060,4298,5228,4447,4495,4899,500,621,702,798,953,974,1212,1227,1525,1804,2148,1931,
           2340,3327,2574,2846,2786,3688,4527,4478,5011,3958,819,581,181,251,325,442,479,536,1436,2956]

################################################################################
W, H = 2755, 1453
L, R, T, B = 95, 2748, 81, 1330
fig = plt.figure(figsize=(W/100, H/100), dpi=100, facecolor='white')
ax = fig.add_axes([L/W, 1-B/H, (R-L)/W, (B-T)/H], facecolor=c_dark)
ax.set_xlim(0, 13815)
ax.set_ylim(6500, 0)

def bez(pts, closed=False):
    # bezier segments through the read points, the contours in the chart are smooth
    p = np.array(pts, dtype=float)
    if closed and not np.allclose(p[0], p[-1]):
        p = np.vstack([p, p[0]])
    closed = closed or np.allclose(p[0], p[-1])
    n = len(p)
    seg = np.maximum(np.hypot(*(p[1:] - p[:-1]).T), 1e-6)
    m = np.zeros_like(p)
    m[1:-1] = (p[2:] - p[:-2]) / (seg[:-1] + seg[1:])[:, None]
    if closed:
        m[0] = m[-1] = (p[1] - p[-2]) / (seg[0] + seg[-1])
    else:
        m[0] = (p[1] - p[0]) / seg[0]
        m[-1] = (p[-1] - p[-2]) / seg[-1]
    verts = [p[0]]
    codes = [Path.MOVETO]
    for i in range(n - 1):
        verts += [p[i] + m[i] * seg[i] / 3, p[i+1] - m[i+1] * seg[i] / 3, p[i+1]]
        codes += [Path.CURVE4] * 3
    return verts, codes

def poly(pts, col, z):
    v, c = bez(pts, closed=True)
    ax.add_patch(PathPatch(Path(v, c), facecolor=col, edgecolor='black', lw=0.75, zorder=z))

def line(pts, z=6):
    v, c = bez(pts)
    ax.add_patch(PathPatch(Path(v, c), facecolor='none', edgecolor='black', lw=0.75, zorder=z, capstyle='round'))

def band(top, low, col, z):
    # area under a smoothed top edge, closed along the bottom of the section
    v, c = bez(top)
    v = v + [(13815, 6500), (low[-1][0] if low else 0, 6500)]
    c = c + [Path.LINETO, Path.LINETO]
    if low:
        v2, c2 = bez(low[::-1])
        v = v + v2
        c = c + [Path.LINETO] + c2[1:]
    ax.add_patch(PathPatch(Path(v, c), facecolor=col, edgecolor='none', lw=0, zorder=z))
    line(top)
    if low:
        line(low)

# bands from the top down
band(b2320, None, c_med, 1)
band(b2350, None, c_lilac, 1.1)
band(b2380_top, b2380_low, c_cream, 1.2)
band(b2410_top, b2410_low, c_lorange, 1.3)
poly(patch_cream2, c_cream, 1.4)

for p in [patch_med_a, patch_med_b, patch_med_c, patch_med_d]:
    poly(p, c_med, 1.5)
poly(patch_lilac_a, c_lilac, 1.6)
poly(patch_cream_a, c_cream, 1.7)

for p in [lo_a, lo_b, lo_c, lo_d, lo_e]:
    poly(p, c_lorange, 2)
for p in [or_1, or_2, or_3, or_4, or_5, or_6, or_7, or_8, or_9, or_10, or_11, or_12, or_13, or_14, or_15, or_16, or_17]:
    poly(p, c_orange, 2.5)

for c in [c_a1, c_a2, c_a2b, c_a3, c_2330l, c_2340l, c_r1, c_r2, c_r2b, c_2330, c_2330b, c_2340, c_2340b, c_2360a, c_2360b,
          c_2360c, c_2360d, c_2370a, c_2370b, c_2370c, c_2370d, c_2370e, c_2360l, c_2360m, c_2360o, c_2390a, c_2390b, c_2390c,
          c_2390d, c_2390e, c_2390f, c_2390g, c_2390h, c_2400a, c_2400b, c_2400c, c_2400d, c_2400e, c_2420a, c_2420b, c_2420c,
          c_2420d, c_2420e, c_2420f, c_2420g, c_t1, c_t2, c_t3, c_t3b, c_t4, c_t4b, c_t5, c_t5b, c_t5c, c_t6, c_t7, c_t8, c_t9,
          c_loop, c_peanut, c_blob, c_ell1, c_ell2, c_s1, c_s2, c_s3, c_s4, c_s5, c_f1, c_f2, c_f3, c_f4, c_f5, c_f6, c_f7, c_f8,
          c_f9, c_f10, c_f11, c_f12, c_f13, c_f14, c_f15, c_circ, c_circ2, c_circ3, c_s6, c_s7, c_lens, c_bump1, c_bump2, c_bump3,
          c_bump4, c_bump5, c_bump6, c_bump7]:
    line(c)

# stations dots
all_sta = np.sort(np.r_[sta_labels_km[:-1], sta_km])
xa, ya = np.meshgrid(all_sta[0::4], lev_a)
xb, yb = np.meshgrid(all_sta[2::4], lev_b)
ax.scatter(xa.ravel(), ya.ravel(), s=3, c='black', lw=0, zorder=7)
ax.scatter(xb.ravel(), yb.ravel(), s=3, c='black', lw=0, zorder=7)

# grey below 5910 m, then bottom
ax.fill_between([0, 13815], 5910, 6500, color=c_grey, lw=0, zorder=8)
bx, by = np.array(bathy, dtype=float).T
ax.fill_between(bx, by, 6500, color='black', lw=0, zorder=9)

# contour labels
for t, k, d in zip(lab_txt, lab_km, lab_dep):
    ax.text(k, d, t, fontsize=17, ha='center', va='center', color='black', zorder=10, clip_on=True)

# watermark
ax.text(667, 5952, 'WOCE', fontsize=9, fontweight='bold', color='#9c9c9c', ha='center', va='center', zorder=11)
ax.text(667, 6067, 'HYDROGRAPHIC', fontsize=9, fontweight='bold', color='#9c9c9c', ha='center', va='center', zorder=11)
ax.text(667, 6191, 'ATLAS', fontsize=9, fontweight='bold', color='#9c9c9c', ha='center', va='center', zorder=11)
ax.text(667, 6322, 'Computer Generated', fontsize=15, family='Noto Sans', color='#707070', ha='center', va='center', zorder=11)

# axes
for s in ['top', 'left']:
    ax.spines[s].set_linewidth(2.6)
ax.spines['bottom'].set_linewidth(1.0)
ax.spines['right'].set_linewidth(1.0)
for s in ax.spines.values():
    s.set_zorder(12)
ax.set_xticks(np.arange(0, 13501, 500))
ax.set_xticks(np.arange(0, 13801, 100), minor=True)
ax.set_yticks(np.arange(0, 6501, 500))
ax.set_yticks(np.arange(0, 6501, 100), minor=True)
ax.tick_params(which='major', top=True, bottom=True, left=True, right=False, direction='out', length=10, width=1.1,
               labelsize=17, pad=12)
ax.tick_params(which='minor', top=True, bottom=True, left=True, right=True, direction='out', length=5, width=1.0)
ax.tick_params(axis='x', which='major', pad=14)

# top station strip and bottom latitude strip
trans = ax.get_xaxis_transform()
hgt = B - T
def yfrac(py):
    return 1 - (py - T) / hgt

ax.vlines(sta_labels_km, yfrac(58), yfrac(38), color='#e81010', lw=0.9, transform=trans, clip_on=False)
ax.plot(sta_km[0::2], [yfrac(48)]*len(sta_km[0::2]), '+', color='#22e000', ms=8, mew=1.1, transform=trans, clip_on=False)
ax.plot(sta_km[1::2], [yfrac(48)]*len(sta_km[1::2]), '+', color='black', ms=8, mew=0.9, transform=trans, clip_on=False)
ax.plot(sta_labels_km, [yfrac(48)]*len(sta_labels_km), '+', color='#22e000', ms=8, mew=1.1, transform=trans, clip_on=False)
for t, k in zip(sta_labels, sta_labels_km):
    ax.text(k, yfrac(21), t, fontsize=12, family='Liberation Serif', rotation=90, ha='center', va='center',
            transform=trans, clip_on=False)

ax.plot([-40, 13815], [yfrac(1401)]*2, color='black', lw=1.0, transform=trans, clip_on=False)
ax.vlines(lat_minor_km, yfrac(1410), yfrac(1392), color='black', lw=0.9, transform=trans, clip_on=False)
ax.vlines(lat_major_km, yfrac(1416), yfrac(1387), color='#555555', lw=1.3, transform=trans, clip_on=False)
for t, k in zip(lat_major, lat_major_km):
    s = str(t).replace('-', '\u2013')
    ax.text(k, yfrac(1439), s, fontsize=15, ha='center', va='center', transform=trans, clip_on=False)

fig.text(58/W, 1-52/H, 'm', fontsize=20, ha='center', va='center')
fig.text(51/W, 1-1368/H, 'km', fontsize=20, ha='center', va='center')
fig.text(51/W, 1-1438/H, 'Lat', fontsize=20, ha='center', va='center')

fig.savefig('out.png', dpi=100)
